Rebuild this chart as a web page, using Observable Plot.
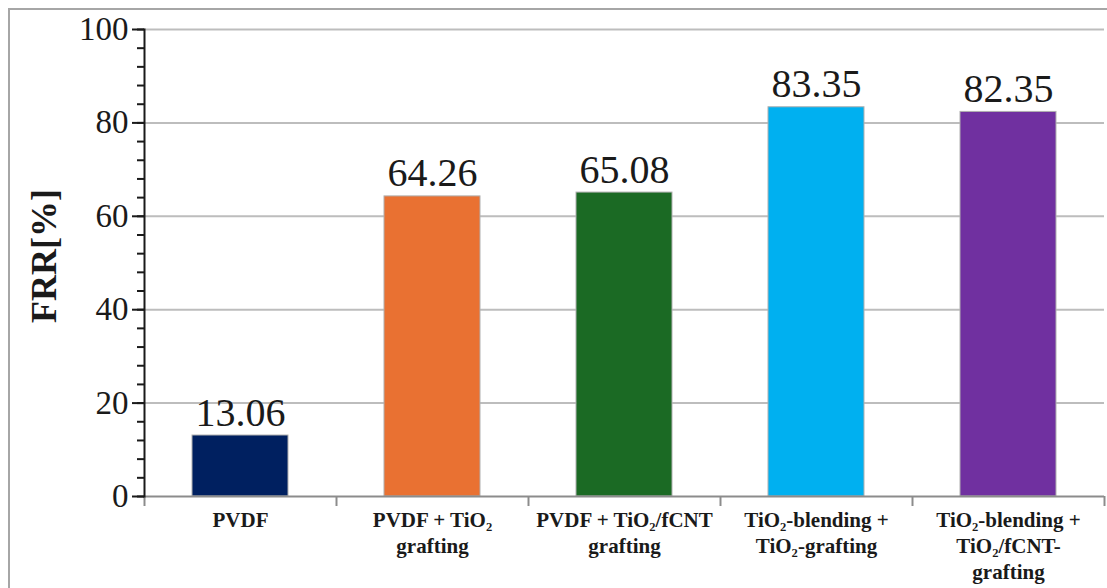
<!DOCTYPE html>
<html>
<head>
<meta charset="utf-8">
<script src="https://cdn.jsdelivr.net/npm/d3@7"></script>
<script src="https://cdn.jsdelivr.net/npm/@observablehq/plot@0.6"></script>
<style>
  html, body { margin: 0; padding: 0; background: #fff; overflow: hidden; }
  #wrap { position: relative; width: 1107px; height: 588px; }
  #frame { position: absolute; left: 8px; top: 8px; width: 1200px; height: 700px; border: 2px solid #a6a6a6; box-sizing: border-box; }
  #chart { position: absolute; left: 0; top: 0; }
  #chart svg, #chart svg text, #chart svg g { font-family: "Liberation Serif", "Times New Roman", serif !important; }
</style>
</head>
<body>
<div id="wrap"><div id="frame"></div><div id="chart"></div></div>
<script>
const categories = [
  "PVDF",
  "PVDF + TiO₂ grafting",
  "PVDF + TiO₂/fCNT grafting",
  "TiO₂-blending + TiO₂-grafting",
  "TiO₂-blending + TiO₂/fCNT-grafting"
];
const tickLabels = [
  "PVDF",
  "PVDF + TiO₂\ngrafting",
  "PVDF + TiO₂/fCNT\ngrafting",
  "TiO₂-blending +\nTiO₂-grafting",
  "TiO₂-blending +\nTiO₂/fCNT-\ngrafting"
];
const frrValues = [13.06, 64.26, 65.08, 83.35, 82.35];
const barColors = ["#002060", "#e97132", "#1b6a24", "#00b0f0", "#7030a0"];
const yMajorTicks = [0, 20, 40, 60, 80, 100];
const yMinorTicks = d3.range(0, 101, 4);
const gridValues = [20, 40, 60, 80, 100];
const yLabel = "FRR[%]";

const data = categories.map((c, i) => ({category: c, value: frrValues[i], color: barColors[i]}));
const labelOf = new Map(categories.map((c, i) => [c, tickLabels[i]]));
const serif = "'Liberation Serif', 'Times New Roman', serif";

const chart = Plot.plot({
  width: 1107,
  height: 588,
  marginTop: 29,
  marginBottom: 92,
  marginLeft: 144,
  marginRight: 3,
  style: {fontFamily: serif, color: "#1a1a1a", background: "transparent", overflow: "visible"},
  x: {domain: categories, paddingInner: 0.5, paddingOuter: 0.25, axis: null},
  y: {domain: [0, 100], axis: null},
  marks: [
    Plot.ruleY(gridValues, {stroke: "#bdbdbd", strokeWidth: 2}),
    Plot.barY(data, {x: "category", y: "value", fill: "color", stroke: "#b0b0b0", strokeWidth: 1}),
    Plot.ruleY([0], {stroke: "#8c8c8c", strokeWidth: 2}),
    Plot.ruleX(categories, {x: d => d, y1: 0, y2: 0, dx: -96, insetBottom: -10, stroke: "#8c8c8c", strokeWidth: 2}),
    Plot.ruleX([categories[categories.length - 1]], {x: d => d, y1: 0, y2: 0, dx: 96, insetBottom: -10, stroke: "#8c8c8c", strokeWidth: 2}),
    Plot.frame({anchor: "left", stroke: "#1a1a1a", strokeWidth: 2}),
    Plot.axisY({ticks: yMinorTicks, tickSize: 7, text: null, label: null, stroke: "#1a1a1a", strokeWidth: 2}),
    Plot.axisY({ticks: yMajorTicks, tickSize: 12, tickPadding: 4, fontSize: 33, stroke: "#1a1a1a", strokeWidth: 2, label: null}),
    Plot.text([yLabel], {frameAnchor: "left", textAnchor: "middle", dx: -100, dy: -7, rotate: -90, fontSize: 36, fontWeight: "bold", text: d => d, fill: "#1a1a1a"}),
    Plot.axisX({tickSize: 0, tickPadding: 12, fontSize: 21, fontWeight: "bold", lineHeight: 1.24, tickFormat: d => labelOf.get(d), label: null}),
    Plot.text(data, {x: "category", y: "value", text: d => d.value.toFixed(2), lineAnchor: "bottom", dy: -10, fontSize: 40, fill: "#1a1a1a"})
  ]
});
document.getElementById("chart").appendChild(chart);
</script>
</body>
</html>
